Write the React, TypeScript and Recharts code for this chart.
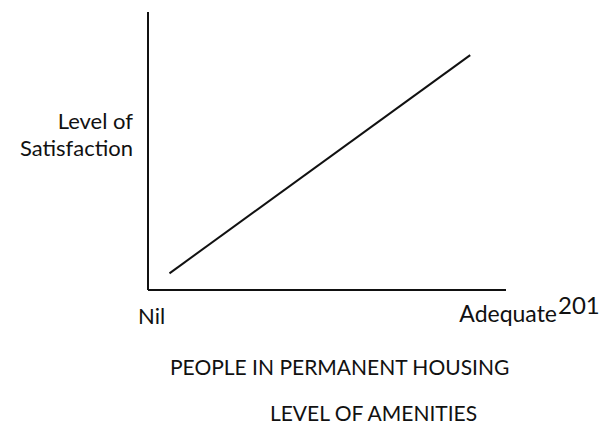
import { LineChart, Line, XAxis, YAxis } from 'recharts'

// amenities level (0 = Nil, 100 = Adequate) vs satisfaction
const amenities = [6, 90]
const satisfaction = [6, 84.5]
const xTicks = [0, 100]
const xTickLabels = ['Nil', 'Adequate']

const yTitle = ['Level of', 'Satisfaction']
const xTitle = 'PEOPLE IN PERMANENT HOUSING'
const xSubTitle = 'LEVEL OF AMENITIES'
const pageNo = '201'

const chartData = amenities.map((a, i) => ({ x: a, y: satisfaction[i] }))

const FONT = 'Lato, "Open Sans", sans-serif'

function XTick({ x, y, index }: { x?: number; y?: number; index?: number }) {
  const first = index === 0
  return (
    <text
      x={first ? (x ?? 0) - 10 : (x ?? 0) + 51}
      y={(y ?? 0) + (first ? 26 : 24)}
      textAnchor={first ? 'start' : 'end'}
      fontSize={first ? 22 : 23}
      fontFamily={FONT}
      fill="#111"
    >
      {xTickLabels[index ?? 0]}
    </text>
  )
}

export default function App() {
  return (
    <div style={{ position: 'absolute', left: 0, top: 0, width: 603, height: 425, background: '#fff' }}>
      <LineChart
        width={603}
        height={425}
        data={chartData}
        margin={{ top: 12, right: 97, left: 147, bottom: 95 }}
      >
        <XAxis
          type="number"
          dataKey="x"
          domain={[0, 100]}
          ticks={xTicks}
          tick={<XTick />}
          tickLine={false}
          height={40}
          axisLine={{ stroke: '#111', strokeWidth: 2 }}
        />
        <YAxis
          type="number"
          dataKey="y"
          domain={[0, 100]}
          tick={false}
          tickLine={false}
          width={1}
          axisLine={{ stroke: '#111', strokeWidth: 2 }}
        />
        <Line
          type="linear"
          dataKey="y"
          stroke="#111"
          strokeWidth={2}
          dot={false}
          isAnimationActive={false}
        />
      </LineChart>
      <div
        style={{
          position: 'absolute',
          right: 603 - 133,
          top: 107,
          textAlign: 'right',
          fontFamily: FONT,
          fontSize: 22,
          lineHeight: '27px',
          color: '#111',
          whiteSpace: 'nowrap',
        }}
      >
        {yTitle.map((t) => (
          <div key={t}>{t}</div>
        ))}
      </div>
      <div style={{ position: 'absolute', left: 558, top: 290, fontFamily: FONT, fontSize: 24, color: '#111' }}>
        {pageNo}
      </div>
      <div
        style={{
          position: 'absolute',
          left: 170,
          top: 354,
          width: 338,
          textAlign: 'center',
          fontFamily: FONT,
          fontSize: 21,
          color: '#111',
          whiteSpace: 'nowrap',
        }}
      >
        {xTitle}
      </div>
      <div
        style={{
          position: 'absolute',
          left: 267,
          top: 400,
          width: 213,
          textAlign: 'center',
          fontFamily: FONT,
          fontSize: 21,
          color: '#111',
          whiteSpace: 'nowrap',
        }}
      >
        {xSubTitle}
      </div>
    </div>
  )
}
